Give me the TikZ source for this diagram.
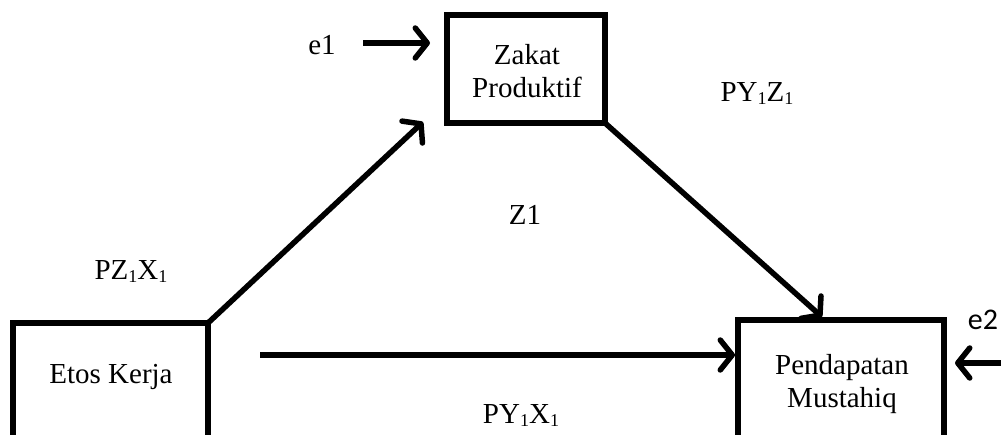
\documentclass[tikz,border=0pt]{standalone}
\usepackage{fontspec}
\setmainfont{Liberation Serif}
\newfontfamily\esans{Carlito}
\usetikzlibrary{arrows.meta,calc}
\newcommand{\lowone}{\raisebox{-3pt}{\fontsize{18}{18}\selectfont 1}}
\begin{document}
\begin{tikzpicture}[x=1pt,y=-1pt,
  box/.style={draw,line width=5.5pt,rectangle,inner sep=0pt,outer sep=0pt},
  txt/.style={inner sep=0pt,align=center,font=\fontsize{29}{33}\selectfont},
  conn/.style={line width=5.5pt,-{Straight Barb[length=12pt,width=30pt,line cap=round,line join=round]}},
  ]
\clip (0,0) rectangle (1001,435);
\fill[white] (0,0) rectangle (1001,435);
% boxes
\node[box,minimum width=158pt,minimum height=108pt] (zakat) at (526,69) {};
\node[box,minimum width=195pt,minimum height=200pt] (etos) at (110.5,423) {};
\node[box,minimum width=206pt,minimum height=200pt] (pend) at (841,420) {};
% box texts
\node[txt] (tzakat) at (527,71) {Zakat\\Produktif};
\node[txt] (tetos) at (111,377) {Etos Kerja};
\node[txt] (tpend) at (842,384) {Pendapatan\\Mustahiq};
% labels
\node[txt] (e1) at (322,45) {e1};
\node[inner sep=0pt,font=\esans\fontsize{30}{34}\selectfont] (e2) at (983,320) {e2};
\node[txt] (pzx) at (131,272) {PZ\lowone X\lowone};
\node[txt] (pyz) at (757,94) {PY\lowone Z\lowone};
\node[txt] (z1) at (525,215) {Z1};
\node[txt] (pyx) at (521,416) {PY\lowone X\lowone};
% connector end points
\coordinate (h1) at (260,355);
\coordinate (e1s) at (363,43);
\coordinate (e2s) at (1005,363);
% connectors
\draw[conn] (etos.north east) -- ($(zakat.south west)+(-24,-1)$);
\draw[conn] (zakat.south east) -- ($(pend.north)+(-19,-3)$);
\draw[conn,shorten >=3pt] (h1) -- (h1 -| pend.west);
\draw[conn,shorten >=17pt] (e1s) -- (e1s -| zakat.west);
\draw[conn,shorten >=11pt] (e2s) -- (e2s -| pend.east);
\end{tikzpicture}
\end{document}
